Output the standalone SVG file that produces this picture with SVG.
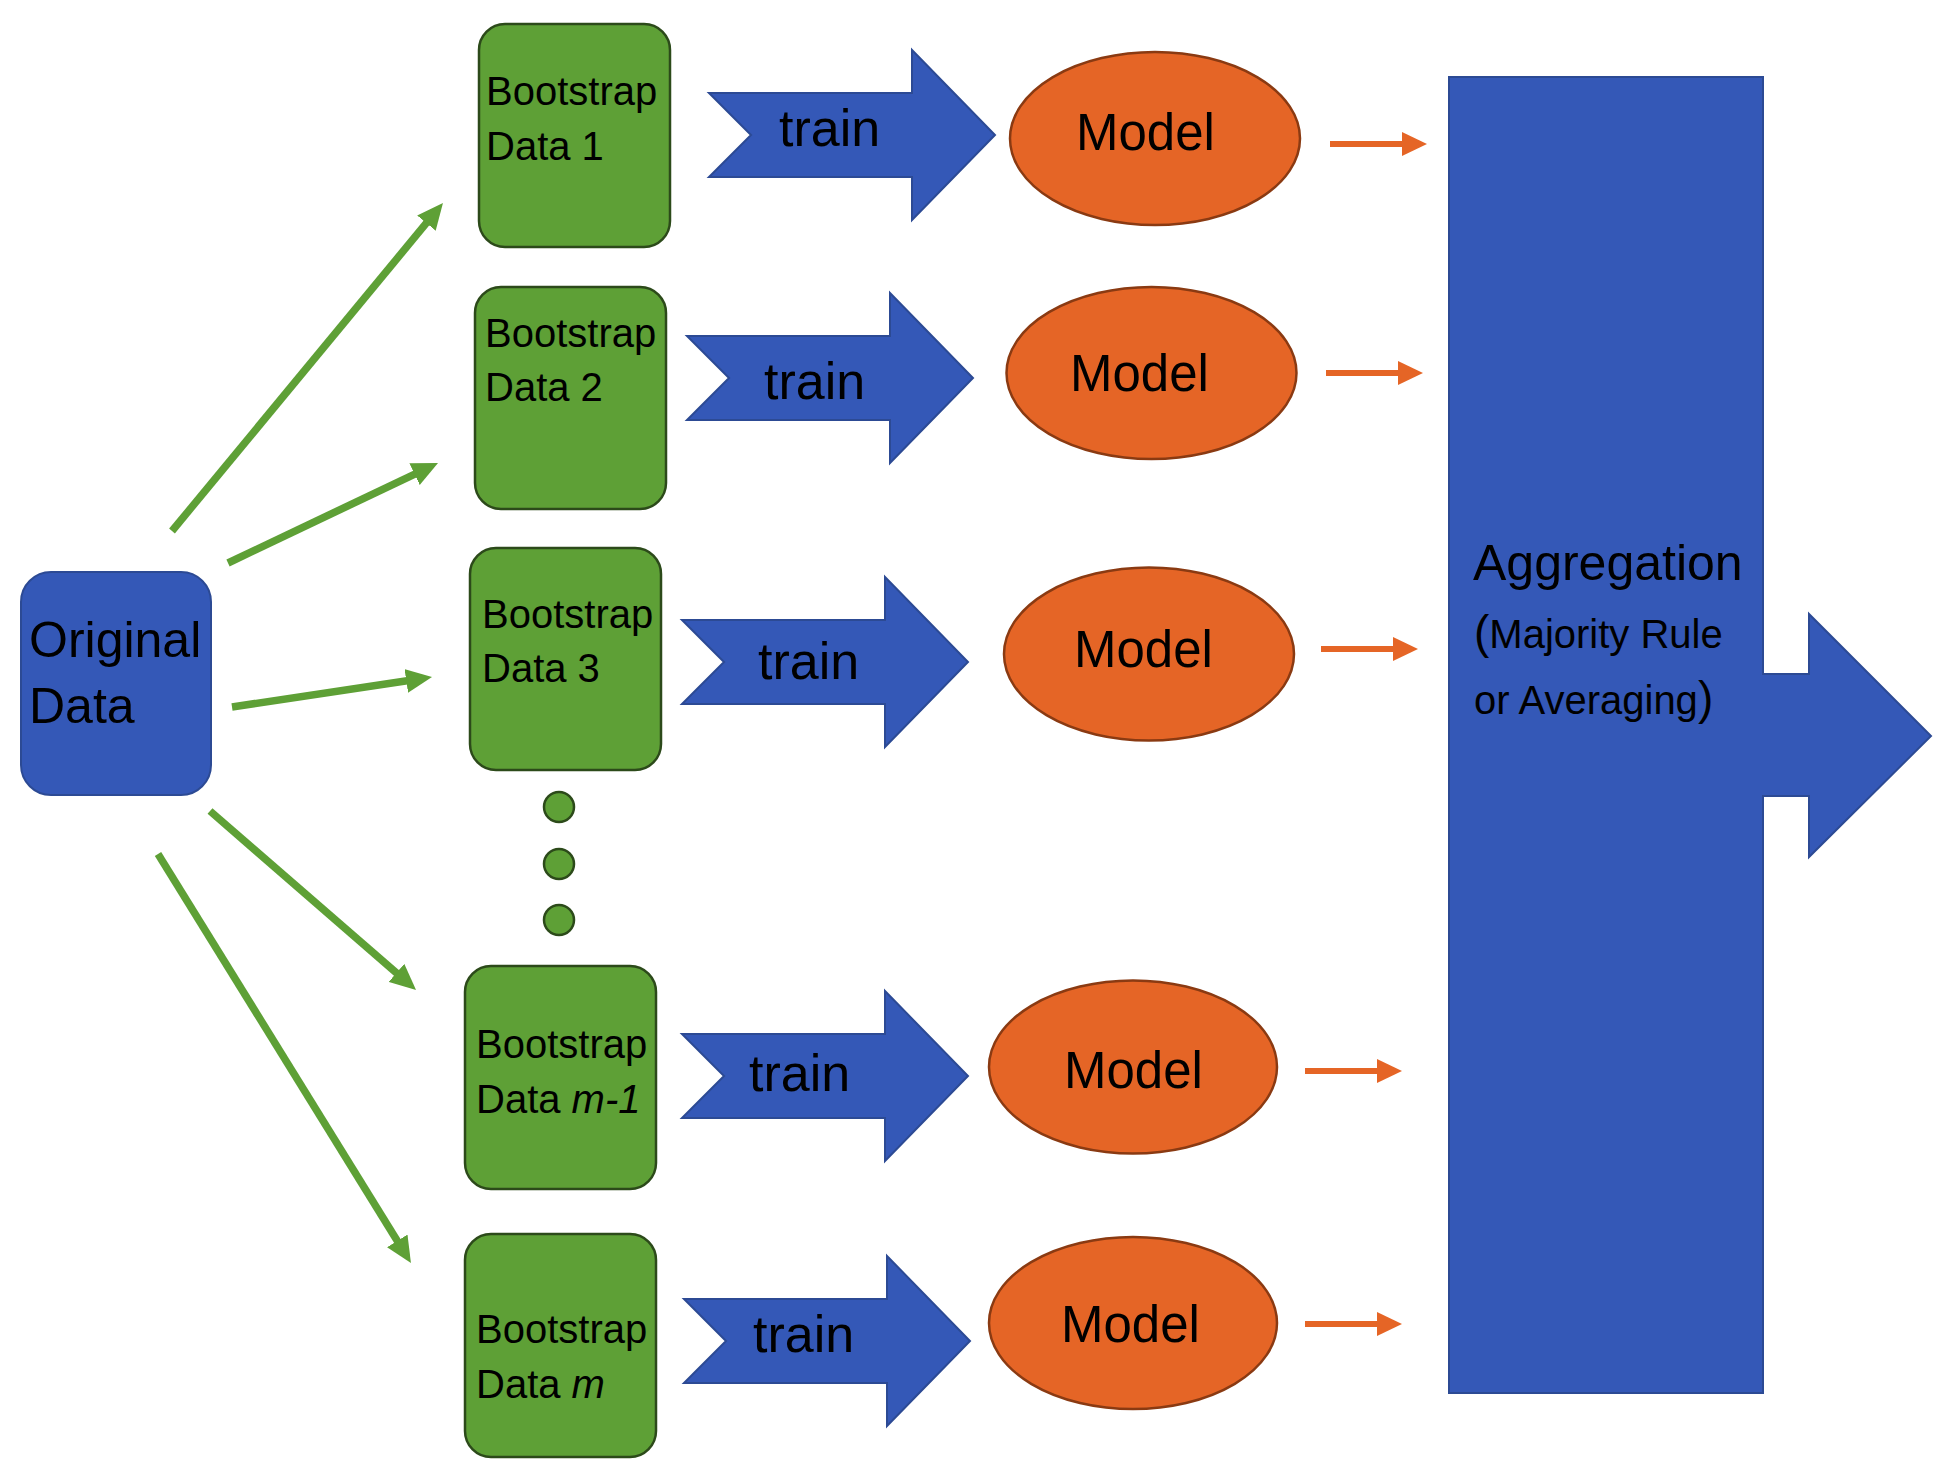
<svg xmlns="http://www.w3.org/2000/svg" width="1945" height="1464" viewBox="0 0 1945 1464">
<style>
  text { font-family: "Liberation Sans", Arial, sans-serif; fill: #000; }
  .blue { fill: #3458B7; stroke: #2C4A94; stroke-width: 2; }
  .box { fill: #5EA036; stroke: #2C4A1A; stroke-width: 2.5; }
  .dot { fill: #5EA036; stroke: #2C4A1A; stroke-width: 2.5; }
  .model { fill: #E56526; stroke: #8A3A12; stroke-width: 2.5; }
  .g { stroke: #5EA036; stroke-width: 7.5; fill: none; marker-end: url(#gh); }
  .o { stroke: #E56526; stroke-width: 6; fill: none; marker-end: url(#oh); }
  .bt { font-size: 40px; }
  .tr { font-size: 52px; }
  .md { font-size: 51px; }
</style>
<defs>
  <marker id="gh" markerUnits="userSpaceOnUse" viewBox="0 0 26 24" markerWidth="26" markerHeight="24" refX="16" refY="12" orient="auto">
    <path d="M0,0 L26,12 L0,24 Z" fill="#5EA036"/>
  </marker>
  <marker id="oh" markerUnits="userSpaceOnUse" viewBox="0 0 25 24" markerWidth="25" markerHeight="24" refX="15" refY="12" orient="auto">
    <path d="M0,0 L25,12 L0,24 Z" fill="#E56526"/>
  </marker>
  <path id="trainArrow" d="M0,-42 H203 V-85 L286,0 L203,85 V42 H0 L42,0 Z"/>
</defs>

<g id="connectors">
  <line class="g" x1="172" y1="531" x2="436.6" y2="210.7"/>
  <line class="g" x1="228" y1="563" x2="429" y2="467.3"/>
  <line class="g" x1="232" y1="707" x2="422.1" y2="678.5"/>
  <line class="g" x1="210" y1="811" x2="408.5" y2="983.4"/>
  <line class="g" x1="158" y1="854" x2="405.7" y2="1254.5"/>
  <line class="o" x1="1330" y1="144" x2="1417" y2="144"/>
  <line class="o" x1="1326" y1="373" x2="1413" y2="373"/>
  <line class="o" x1="1321" y1="649" x2="1408" y2="649"/>
  <line class="o" x1="1305" y1="1071" x2="1392" y2="1071"/>
  <line class="o" x1="1305" y1="1324" x2="1392" y2="1324"/>
</g>

<g id="original-data">
  <rect class="blue" x="21" y="572" width="190" height="223" rx="30"/>
  <text x="29" y="657" font-size="50">Original</text>
  <text x="29" y="723" font-size="50">Data</text>
</g>

<g id="bootstrap-1">
  <rect class="box" x="479" y="24" width="191" height="223" rx="26"/>
  <text class="bt" x="486" y="105">Bootstrap</text>
  <text class="bt" x="486" y="160">Data 1</text>
</g>
<g id="bootstrap-2">
  <rect class="box" x="475" y="287" width="191" height="222" rx="26"/>
  <text class="bt" x="485" y="347">Bootstrap</text>
  <text class="bt" x="485" y="401">Data 2</text>
</g>
<g id="bootstrap-3">
  <rect class="box" x="470" y="548" width="191" height="222" rx="26"/>
  <text class="bt" x="482" y="628">Bootstrap</text>
  <text class="bt" x="482" y="682">Data 3</text>
</g>
<g id="ellipsis-dots">
  <circle class="dot" cx="559" cy="807" r="15"/>
  <circle class="dot" cx="559" cy="864" r="15"/>
  <circle class="dot" cx="559" cy="920" r="15"/>
</g>
<g id="bootstrap-m-1">
  <rect class="box" x="465" y="966" width="191" height="223" rx="26"/>
  <text class="bt" x="476" y="1058">Bootstrap</text>
  <text class="bt" x="476" y="1113">Data <tspan font-style="italic">m-1</tspan></text>
</g>
<g id="bootstrap-m">
  <rect class="box" x="465" y="1234" width="191" height="223" rx="26"/>
  <text class="bt" x="476" y="1343">Bootstrap</text>
  <text class="bt" x="476" y="1398">Data <tspan font-style="italic">m</tspan></text>
</g>

<g id="train-1">
  <use href="#trainArrow" class="blue" x="709" y="135"/>
  <text class="tr" x="779" y="146">train</text>
</g>
<g id="train-2">
  <use href="#trainArrow" class="blue" x="687" y="378"/>
  <text class="tr" x="764" y="399">train</text>
</g>
<g id="train-3">
  <use href="#trainArrow" class="blue" x="682" y="662"/>
  <text class="tr" x="758" y="679">train</text>
</g>
<g id="train-m-1">
  <use href="#trainArrow" class="blue" x="682" y="1076"/>
  <text class="tr" x="749" y="1091">train</text>
</g>
<g id="train-m">
  <use href="#trainArrow" class="blue" x="684" y="1341"/>
  <text class="tr" x="753" y="1352">train</text>
</g>

<g id="model-1">
  <ellipse class="model" cx="1155" cy="138.5" rx="145" ry="86.5"/>
  <text class="md" x="1076" y="150">Model</text>
</g>
<g id="model-2">
  <ellipse class="model" cx="1151.5" cy="373" rx="145" ry="86"/>
  <text class="md" x="1070" y="391">Model</text>
</g>
<g id="model-3">
  <ellipse class="model" cx="1149" cy="654" rx="145" ry="86.5"/>
  <text class="md" x="1074" y="667">Model</text>
</g>
<g id="model-m-1">
  <ellipse class="model" cx="1133" cy="1067" rx="144" ry="86.5"/>
  <text class="md" x="1064" y="1088">Model</text>
</g>
<g id="model-m">
  <ellipse class="model" cx="1133" cy="1323" rx="144" ry="86"/>
  <text class="md" x="1061" y="1342">Model</text>
</g>

<g id="aggregation">
  <path class="blue" d="M1449,77 H1763 V674 H1809 V614 L1931,736 L1809,857 V796 H1763 V1393 H1449 Z"/>
  <text x="1473" y="580" font-size="50">Aggregation</text>
  <text x="1474" y="648" font-size="40"><tspan font-size="46">(</tspan>Majority Rule</text>
  <text x="1474" y="714" font-size="40">or Averaging<tspan font-size="46">)</tspan></text>
</g>
</svg>
